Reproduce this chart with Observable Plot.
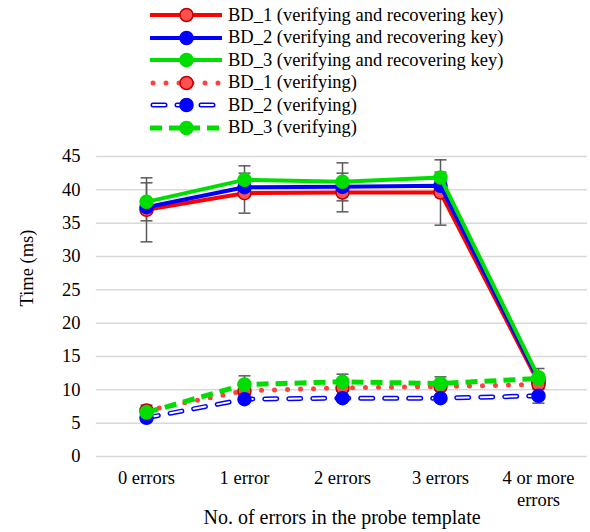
<!DOCTYPE html>
<html><head><meta charset="utf-8">
<script src="https://cdn.jsdelivr.net/npm/d3@7"></script>
<script src="https://cdn.jsdelivr.net/npm/@observablehq/plot@0.6"></script>
<style>
body{margin:0;background:#fff;font-family:"Times New Roman","Times","Nimbus Roman","Nimbus Roman No9 L","FreeSerif","Liberation Serif","DejaVu Serif",serif;color:#000;}
#legend{position:relative;width:590px;height:140px;}
.row{position:absolute;left:150px;height:22px;display:flex;align-items:center;white-space:nowrap;font-size:18.5px;}
.row svg{display:block;margin-right:6px;}
</style></head><body>
<div id="legend"></div>
<div id="chart"></div>
<script>
// ---- data ----
const categories = ["0 errors", "1 error", "2 errors", "3 errors", "4 or more errors"];
const tickLabels = ["0 errors", "1 error", "2 errors", "3 errors", "4 or more\nerrors"];
const seriesNames = [
  "BD_1 (verifying and recovering key)",
  "BD_2 (verifying and recovering key)",
  "BD_3 (verifying and recovering key)",
  "BD_1 (verifying)",
  "BD_2 (verifying)",
  "BD_3 (verifying)"
];
const bd1Full = [37.0, 39.5, 39.6, 39.6, 11.1];
const bd2Full = [37.4, 40.4, 40.45, 40.6, 11.5];
const bd3Full = [38.2, 41.5, 41.2, 41.85, 11.9];
const bd1Ver = [6.9, 9.85, 10.3, 10.5, 10.8];
const bd2Ver = [5.8, 8.6, 8.75, 8.75, 9.1];
const bd3Ver = [6.6, 10.8, 11.2, 10.95, 11.7];
const bd1FullErr = [4.8, 3.0, 2.9, 4.9, 1.0];
const bd2FullErr = [0.6, 0.6, 0.6, 0.6, 0.6];
const bd3FullErr = [2.85, 2.1, 2.85, 0.8, 1.3];
const bd1VerErr = [0.8, 0.5, 0.5, 0.5, 0.5];
const bd2VerErr = [0.4, 0.3, 0.3, 0.3, 1.1];
const bd3VerErr = [0.6, 1.3, 1.15, 1.0, 0.6];
const yTicks = [0, 5, 10, 15, 20, 25, 30, 35, 40, 45];

// ---- styles ----
const FONT = "'Times New Roman', Times, 'Nimbus Roman', FreeSerif, 'Liberation Serif', 'DejaVu Serif', serif";
const RED = "#ff0000", RED_DOT = "#ff4040", RED_FILL = "#ff5050", RED_EDGE = "#c00000";
const BLUE = "#0000ff", GREEN = "#00dd00", ERR = "#595959";
const styles = [
  {stroke: RED, width: 4, dash: null, cap: "butt", fill: RED_FILL, edge: RED_EDGE},
  {stroke: BLUE, width: 4, dash: null, cap: "butt", fill: BLUE, edge: BLUE},
  {stroke: GREEN, width: 4, dash: null, cap: "butt", fill: GREEN, edge: GREEN},
  {stroke: RED_DOT, width: 5, dash: "0 13", cap: "round", fill: RED_FILL, edge: RED_EDGE},
  {stroke: BLUE, width: 5, dash: "12 12", cap: "round", fill: BLUE, edge: BLUE, inner: true},
  {stroke: GREEN, width: 5, dash: "12 7", cap: "butt", fill: GREEN, edge: GREEN}
];
const values = [bd1Full, bd2Full, bd3Full, bd1Ver, bd2Ver, bd3Ver];
const errs = [bd1FullErr, bd2FullErr, bd3FullErr, bd1VerErr, bd2VerErr, bd3VerErr];

const series = values.map((vals, s) => categories.map((c, i) => ({
  cat: c, value: vals[i], low: vals[i] - errs[s][i], high: vals[i] + errs[s][i]
})));

// ---- legend ----
const legend = document.getElementById("legend");
const centers = [15, 37.5, 60, 82.5, 105, 127.5];
seriesNames.forEach((name, s) => {
  const st = styles[s];
  const dash = st.dash ? `stroke-dasharray="${st.dash}"` : "";
  const start = st.cap === "round" ? 3 : 0;
  let line = `<line x1="${start}" y1="11" x2="72" y2="11" stroke="${st.stroke}" stroke-width="${st.width}" stroke-linecap="${st.cap}" ${dash}/>`;
  if (st.inner) line += `<line x1="${start}" y1="11" x2="72" y2="11" stroke="#fff" stroke-width="2" stroke-linecap="round" ${dash}/>`;
  const marker = `<circle cx="36.5" cy="11" r="6.5" fill="${st.fill}" stroke="${st.edge}" stroke-width="1.5"/>`;
  const div = document.createElement("div");
  div.className = "row";
  div.style.top = (centers[s] - 11) + "px";
  div.innerHTML = `<svg width="72" height="22">${line}${marker}</svg><span>${name}</span>`;
  legend.appendChild(div);
});

// ---- chart ----
const capSymbol = {draw(ctx) { ctx.moveTo(-6, 0); ctx.lineTo(6, 0); }};
const marks = [
  Plot.gridY(yTicks, {stroke: "#d9d9d9", strokeOpacity: 1, strokeWidth: 1.5}),
  Plot.axisY(yTicks, {tickSize: 0, tickPadding: 16, label: null, fontSize: 18.5, fontFamily: FONT}),
  Plot.text(categories, {x: d => d, text: (d, i) => tickLabels[i], frameAnchor: "bottom", lineAnchor: "top", dy: 13, lineHeight: 1.14, fontSize: 18.5, fontFamily: FONT}),
  Plot.text(["Time (ms)"], {frameAnchor: "left", rotate: -90, dx: -69, fontSize: 18.5, fontFamily: FONT}),
  Plot.text(["No. of errors in the probe template"], {frameAnchor: "bottom", dy: 67, fontSize: 20, fontFamily: FONT})
];
// error bars
series.forEach(data => {
  marks.push(Plot.ruleX(data, {x: "cat", y1: "low", y2: "high", stroke: ERR, strokeWidth: 1.5}));
  marks.push(Plot.dot(data, {x: "cat", y: "high", symbol: capSymbol, fill: "none", stroke: ERR, strokeWidth: 1.5}));
  marks.push(Plot.dot(data, {x: "cat", y: "low", symbol: capSymbol, fill: "none", stroke: ERR, strokeWidth: 1.5}));
});
// lines and markers
series.forEach((data, s) => {
  const st = styles[s];
  const opts = {x: "cat", y: "value", stroke: st.stroke, strokeWidth: st.width, strokeLinecap: st.cap, strokeLinejoin: "round"};
  if (st.dash) opts.strokeDasharray = st.dash;
  marks.push(Plot.line(data, opts));
  if (st.inner) marks.push(Plot.line(data, {...opts, stroke: "#fff", strokeWidth: 2, strokeLinecap: "round"}));
  marks.push(Plot.dot(data, {x: "cat", y: "value", r: 6.5, fill: st.fill, stroke: st.edge, strokeWidth: 1.5}));
});

const chart = Plot.plot({
  width: 590,
  height: 392,
  marginLeft: 96,
  marginRight: 3,
  marginTop: 16,
  marginBottom: 76,
  style: {fontFamily: FONT, fontSize: "18.5px", color: "#000", background: "#fff"},
  x: {type: "point", domain: categories, padding: 0.5, axis: null},
  y: {domain: [0, 45], axis: null},
  marks
});
document.getElementById("chart").appendChild(chart);
</script>
</body></html>
